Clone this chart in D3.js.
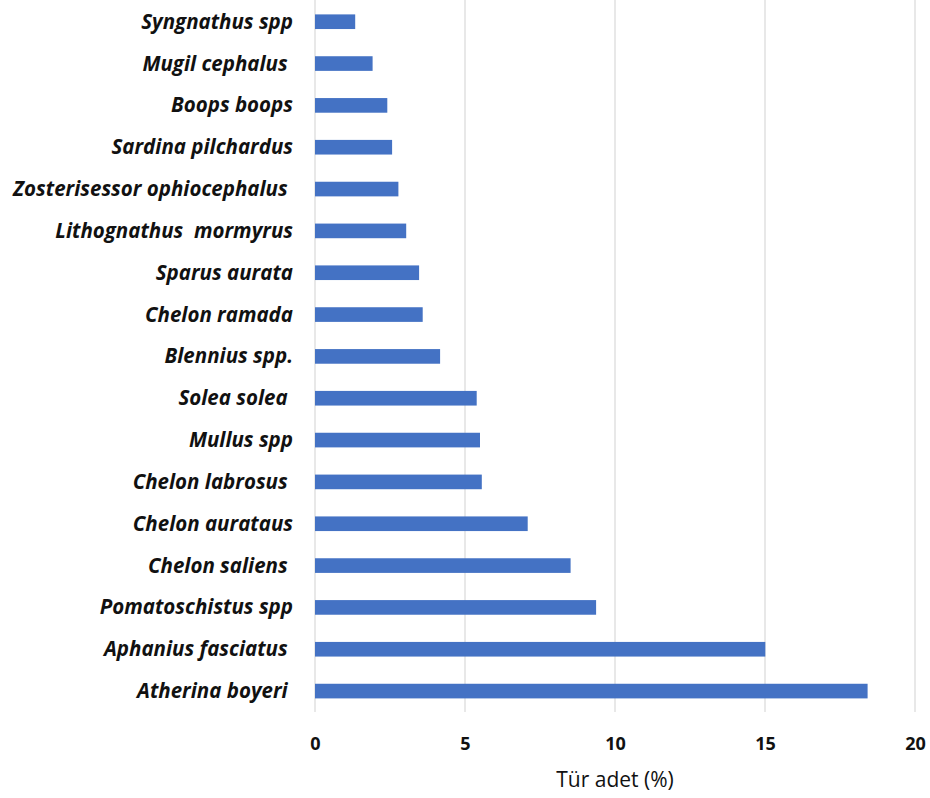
<!DOCTYPE html>
<html>
<head>
<meta charset="utf-8">
<script src="https://cdn.jsdelivr.net/npm/d3@7"></script>
<style>
  html, body { margin: 0; padding: 0; background: #ffffff; }
  svg { display: block; }
  .cat text { white-space: pre; }
</style>
</head>
<body>
<svg id="chart" width="930" height="798"></svg>
<script>
// Species, top to bottom
const species = [
  "Syngnathus spp",
  "Mugil cephalus ",
  "Boops boops",
  "Sardina pilchardus",
  "Zosterisessor ophiocephalus ",
  "Lithognathus  mormyrus",
  "Sparus aurata",
  "Chelon ramada",
  "Blennius spp.",
  "Solea solea ",
  "Mullus spp",
  "Chelon labrosus ",
  "Chelon aurataus",
  "Chelon saliens ",
  "Pomatoschistus spp",
  "Aphanius fasciatus ",
  "Atherina boyeri "
];
// Share of individuals (%)
const shares = [1.34, 1.92, 2.41, 2.57, 2.78, 3.04, 3.47, 3.59, 4.17, 5.39, 5.50, 5.56, 7.09, 8.52, 9.37, 15.01, 18.42];
const xTicks = [0, 5, 10, 15, 20];
const xTitle = "Tür adet (%)";

const svg = d3.select("#chart");
const plotLeft = 315, plotRight = 915, plotTop = 0.8, plotBottom = 712;
const font = "'Open Sans', Lato, sans-serif";

const x = d3.scaleLinear().domain([0, 20]).range([plotLeft, plotRight]);
const y = d3.scaleBand().domain(species).range([plotTop, plotBottom])
  .paddingInner(0.65).paddingOuter(0.325);

// vertical gridlines
svg.append("g").selectAll("line").data(xTicks).join("line")
  .attr("x1", d => x(d)).attr("x2", d => x(d))
  .attr("y1", 0).attr("y2", plotBottom)
  .attr("stroke", "#d9d9d9").attr("stroke-width", 1.2);

// bars
svg.append("g").selectAll("rect").data(species).join("rect")
  .attr("x", x(0))
  .attr("y", d => y(d))
  .attr("width", (d, i) => x(shares[i]) - x(0))
  .attr("height", y.bandwidth())
  .attr("fill", "#4472C4");

// category labels
svg.append("g").attr("class", "cat").selectAll("text").data(species).join("text")
  .attr("x", 293)
  .attr("y", d => y(d) + y.bandwidth() / 2)
  .attr("dy", "0.34em")
  .attr("text-anchor", "end")
  .attr("font-family", font)
  .attr("font-size", 20.5)
  .attr("font-weight", "bold")
  .attr("font-style", "italic")
  .attr("fill", "#111")
  .text(d => d);

// x tick labels
const xAxis = d3.axisBottom(x).tickValues(xTicks).tickSize(0).tickPadding(0);
const gx = svg.append("g").attr("transform", `translate(0,${plotBottom + 25})`).call(xAxis);
gx.select(".domain").remove();
gx.selectAll("text")
  .attr("font-family", font)
  .attr("font-size", 18)
  .attr("font-weight", "bold")
  .attr("fill", "#111");

// axis title
svg.append("text")
  .attr("x", x(10))
  .attr("y", 787)
  .attr("text-anchor", "middle")
  .attr("font-family", font)
  .attr("font-size", 21)
  .attr("fill", "#111")
  .text(xTitle);
</script>
</body>
</html>
